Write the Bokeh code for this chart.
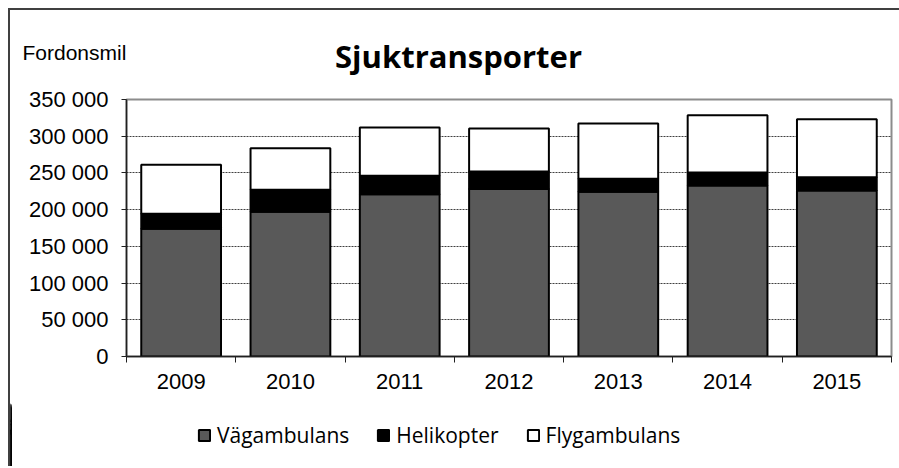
from bokeh.plotting import figure
from bokeh.layouts import column
from bokeh.models import (ColumnDataSource, FixedTicker, Legend, LegendItem, Label, Range1d)
from bokeh.embed import file_html
from bokeh.resources import INLINE

# ---- data ----
years = ["2009", "2010", "2011", "2012", "2013", "2014", "2015"]
vagambulans = [174000, 197000, 221000, 228000, 224500, 233000, 226000]
helikopter = [20500, 30000, 25000, 24000, 17700, 17500, 18000]
flygambulans = [66500, 56500, 66000, 58500, 75000, 78000, 79000]
series_names = ["Vägambulans", "Helikopter", "Flygambulans"]
y_ticks = [0, 50000, 100000, 150000, 200000, 250000, 300000, 350000]
y_tick_labels = ["0", "50 000", "100 000", "150 000", "200 000", "250 000", "300 000", "350 000"]
title_text = "Sjuktransporter"
unit_text = "Fordonsmil"

colors = ["#595959", "#000000", "#ffffff"]
W = 889


def bare_figure(h, xr, yr):
    f = figure(width=W, height=h, output_backend="svg", toolbar_location=None,
               x_range=xr, y_range=yr, x_axis_type=None, y_axis_type=None,
               frame_align=False, min_border=0, min_border_left=0, min_border_right=0,
               min_border_top=0, min_border_bottom=0)
    f.outline_line_color = None
    f.grid.grid_line_color = None
    return f


# ---- header (title + unit) ----
HH = 70
header = bare_figure(HH, Range1d(0, W), Range1d(0, HH))
header.add_layout(Label(x=448, y=25, text=title_text, text_font="Open Sans",
                        text_font_style="bold", text_font_size="31px", text_align="center",
                        text_baseline="middle", text_color="black"))
header.add_layout(Label(x=12, y=28, text=unit_text, text_font="Liberation Sans",
                        text_font_size="21px", text_align="left", text_baseline="middle",
                        text_color="black"))

# ---- main chart ----
xpos = [i + 0.5 for i in range(len(years))]
source = ColumnDataSource(dict(x=xpos, vag=vagambulans, heli=helikopter, fly=flygambulans))

p = figure(width=W, height=320, output_backend="svg", toolbar_location=None,
           x_range=Range1d(0, len(years)), y_range=Range1d(0, 350000), frame_align=False,
           min_border_left=116, min_border_right=8, min_border_top=19, min_border_bottom=44)
p.background_fill_color = "white"
p.border_fill_color = "white"
p.outline_line_color = "#8c8c8c"
p.outline_line_width = 2

renderers = p.vbar_stack(["vag", "heli", "fly"], x="x", width=0.73, source=source,
                         fill_color=colors, line_color="black", line_width=2)

# y axis
p.yaxis.ticker = FixedTicker(ticks=y_ticks)
p.yaxis.major_label_overrides = {t: l for t, l in zip(y_ticks, y_tick_labels)}
p.yaxis.major_label_text_font = "Liberation Sans"
p.yaxis.major_label_text_font_size = "22px"
p.yaxis.major_label_text_color = "black"
p.yaxis.major_tick_out = 5
p.yaxis.major_tick_in = 0
p.yaxis.minor_tick_line_color = None
p.yaxis.major_label_standoff = 13
p.yaxis.axis_line_color = "#202020"
p.yaxis.axis_line_width = 1.5
p.yaxis.major_tick_line_color = "#202020"

# x axis: labels at centers, ticks at boundaries
p.xaxis.ticker = FixedTicker(ticks=xpos, minor_ticks=list(range(len(years) + 1)))
p.xaxis.major_label_overrides = {x: y for x, y in zip(xpos, years)}
p.xaxis.major_tick_line_color = None
p.xaxis.major_tick_out = 6
p.xaxis.minor_tick_out = 6
p.xaxis.minor_tick_in = 0
p.xaxis.minor_tick_line_color = "#202020"
p.xaxis.axis_line_color = "#202020"
p.xaxis.axis_line_width = 1.5
p.xaxis.major_label_text_font = "Liberation Sans"
p.xaxis.major_label_text_font_size = "22px"
p.xaxis.major_label_text_color = "black"
p.xaxis.major_label_standoff = 11

# grid
p.xgrid.grid_line_color = None
p.ygrid.ticker = FixedTicker(ticks=y_ticks[1:-1])
p.ygrid.grid_line_color = "#404040"
p.ygrid.grid_line_dash = "2 1"
p.ygrid.grid_line_width = 1

# ---- footer with legend (swatch renderers styled like the bars; their bars lie outside this view) ----
FH = 66
footer = bare_figure(FH, Range1d(50, 57), Range1d(0, 350000))
swatches = footer.vbar_stack(["vag", "heli", "fly"], x="x", width=0.73, source=source,
                             fill_color=colors, line_color="black", line_width=2)
legend = Legend(items=[LegendItem(label=n, renderers=[r]) for n, r in zip(series_names, swatches)],
                orientation="horizontal", location=(187, 17), glyph_width=14, glyph_height=14,
                label_standoff=6, spacing=27, padding=0, margin=0,
                border_line_color=None, background_fill_alpha=0,
                label_text_font="Open Sans", label_text_font_size="21px", label_text_color="black")
footer.add_layout(legend, "center")

layout = column(header, p, footer, spacing=0)
layout.styles = {"margin-left": "8px", "margin-top": "8px",
                 "border-top": "2px solid #404040", "border-left": "2px solid #404040"}

open("out.html", "w").write(file_html(layout, INLINE))
